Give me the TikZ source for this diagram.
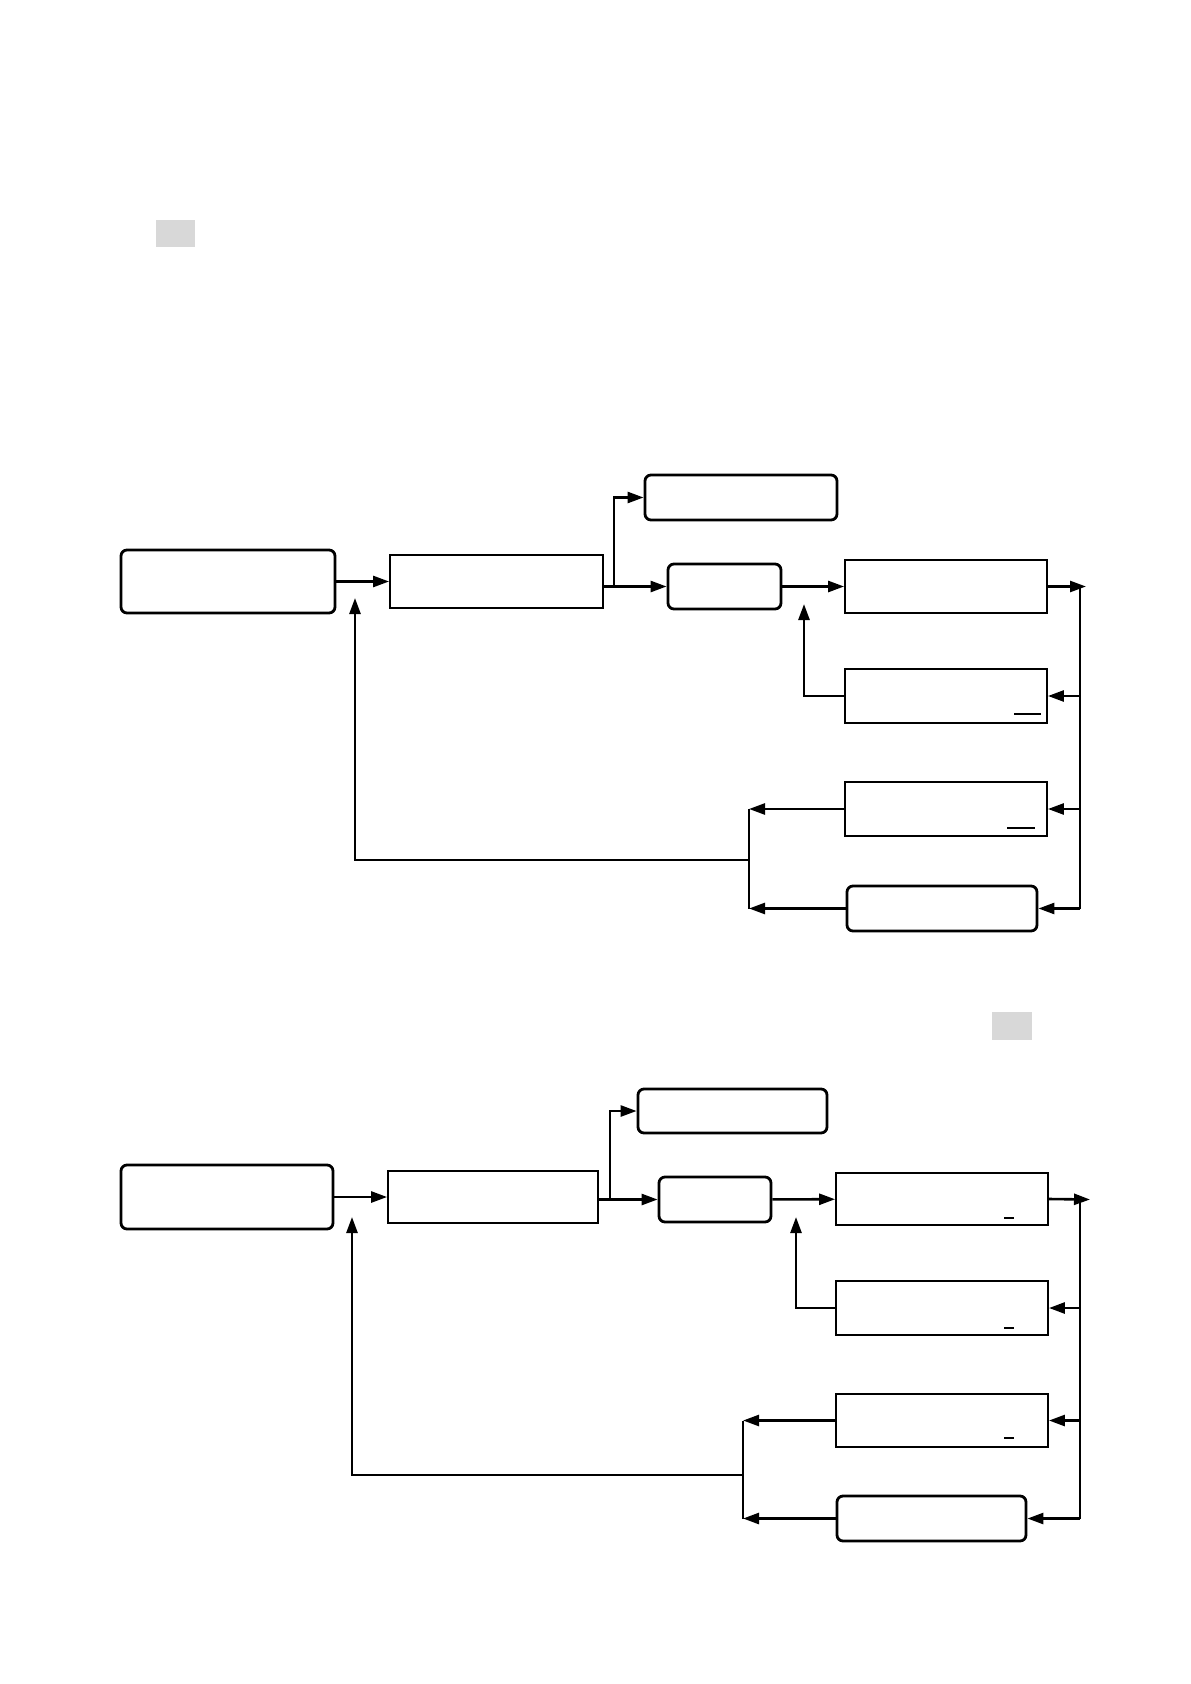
\documentclass[tikz,border=0pt]{standalone}
\usepackage{xcolor}
\definecolor{tabgrey}{RGB}{216,216,216}
\usepackage{tikz}
\usetikzlibrary{arrows.meta}
\tikzset{
  roundbox/.style={draw, rounded corners=3pt, line width=1.4pt,
    inner sep=0pt},
  plainbox/.style={draw, line width=0.9pt, inner sep=0pt},
  arr/.style={-{Triangle[length=8pt,width=5.5pt]}, line width=1.3pt},
  link/.style={line width=1.3pt},
  tick/.style={line width=0.6pt},
  tabblock/.style={fill=tabgrey, draw=none},
}

\begin{document}
\begin{tikzpicture}[x=0.5pt, y=-0.5pt]
  \useasboundingbox (0,0) rectangle (1190,1684);

  % first chart
  \fill[tabblock] (156,220) rectangle (195,247);

  \node[roundbox, minimum width=107pt, minimum height=31.5pt] (astart) at (228,581.5) {};
  \node[plainbox, minimum width=106.5pt, minimum height=26.5pt] (aproc) at (496.5,581.5) {};
  \node[roundbox, minimum width=96pt, minimum height=22.5pt] (aout) at (741,497.5) {};
  \node[roundbox, minimum width=56.5pt, minimum height=22.5pt] (atest) at (724.5,586.5) {};
  \node[plainbox, minimum width=101pt, minimum height=26.5pt] (aA) at (946,586.5) {};
  \node[plainbox, minimum width=101pt, minimum height=27pt] (aB) at (946,696) {};
  \node[plainbox, minimum width=101pt, minimum height=27pt] (aC) at (946,809) {};
  \node[roundbox, minimum width=95pt, minimum height=22.5pt] (aD) at (942,908.5) {};

  \coordinate (abus) at (1080,586.5);
  \coordinate (abusend) at (1080,908.5);
  \coordinate (asplit) at (614,586.5);
  \coordinate (aback) at (804,604);
  \coordinate (amerge) at (749,860);
  \coordinate (aret) at (355,598);

  \draw[arr] (astart) -- (aproc);
  \draw[link] (aproc.east |- atest) -- (asplit);
  \draw[arr] (asplit) |- (aout.west);
  \draw[arr] (asplit) -- (atest);
  \draw[arr] (atest) -- (aA);
  \draw[arr] (aA.east) -- ([xshift=3]abus);
  \draw[link] (abus) -- (abusend);
  \draw[arr] (abus |- aB) -- (aB.east);
  \draw[arr] (abus |- aC) -- (aC.east);
  \draw[arr] (abusend) -- (aD.east);
  \draw[arr] (aB.west) -| (aback);
  \draw[arr] (aC.west) -- (aC.west -| amerge);
  \draw[arr] (aD.west) -- (aD.west -| amerge);
  \draw[link] (aC.west -| amerge) -- (aD.west -| amerge);
  \draw[arr] (amerge) -| (aret);

  \draw[tick] (1014,714) -- (1041,714);
  \draw[tick] (1007,828) -- (1035,828);

  % second chart
  \fill[tabblock] (992,1012) rectangle (1032,1040);

  \node[roundbox, minimum width=106pt, minimum height=32pt] (bstart) at (227,1197) {};
  \node[plainbox, minimum width=105pt, minimum height=26pt] (bproc) at (493,1197) {};
  \node[roundbox, minimum width=94.5pt, minimum height=22pt] (bout) at (732.5,1111) {};
  \node[roundbox, minimum width=56pt, minimum height=22.5pt] (btest) at (715,1199.5) {};
  \node[plainbox, minimum width=106pt, minimum height=26pt] (bA) at (942,1199) {};
  \node[plainbox, minimum width=106pt, minimum height=27pt] (bB) at (942,1308) {};
  \node[plainbox, minimum width=106pt, minimum height=26.5pt] (bC) at (942,1420.5) {};
  \node[roundbox, minimum width=94.5pt, minimum height=22.5pt] (bD) at (931.5,1518.5) {};

  \coordinate (bbus) at (1080,1199.5);
  \coordinate (bbusend) at (1080,1518.5);
  \coordinate (bsplit) at (610,1199.5);
  \coordinate (bback) at (796,1217);
  \coordinate (bmerge) at (743,1475);
  \coordinate (bret) at (352,1217);

  \draw[arr] (bstart) -- (bproc);
  \draw[link] (bproc.east |- btest) -- (bsplit);
  \draw[arr] (bsplit) |- (bout.west);
  \draw[arr] (bsplit) -- (btest);
  \draw[arr] (btest) -- (bA);
  \draw[arr] (bA.east) -- ([xshift=5]bbus);
  \draw[link] (bbus) -- (bbusend);
  \draw[arr] (bbus |- bB) -- (bB.east);
  \draw[arr] (bbus |- bC) -- (bC.east);
  \draw[arr] (bbusend) -- (bD.east);
  \draw[arr] (bB.west) -| (bback);
  \draw[arr] (bC.west) -- (bC.west -| bmerge);
  \draw[arr] (bD.west) -- (bD.west -| bmerge);
  \draw[link] (bC.west -| bmerge) -- (bD.west -| bmerge);
  \draw[arr] (bmerge) -| (bret);

  \draw[tick] (1004,1218) -- (1014,1218);
  \draw[tick] (1004,1328) -- (1014,1328);
  \draw[tick] (1004,1438) -- (1014,1438);
\end{tikzpicture}
\end{document}
